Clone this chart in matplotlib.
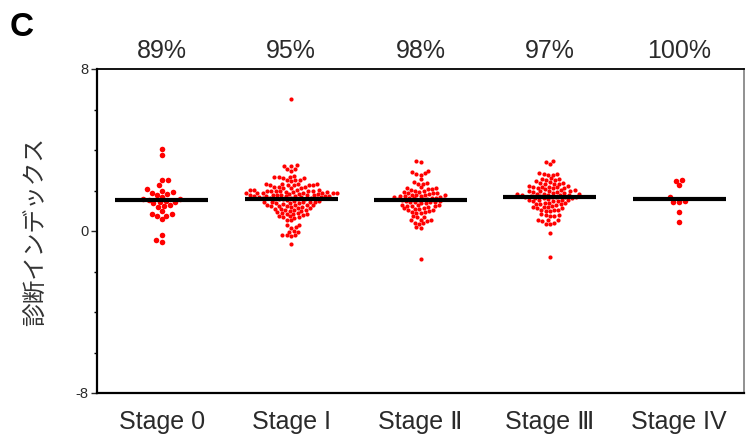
import matplotlib
matplotlib.use("Agg")
import matplotlib.pyplot as plt
import matplotlib.transforms as mtransforms
import numpy as np
import pandas as pd
import seaborn as sns

# values
stages = ["Stage 0", "Stage I", "Stage Ⅱ", "Stage Ⅲ", "Stage IV"]
percent_labels = ["89%", "95%", "98%", "97%", "100%"]
mean_values = [1.53, 1.60, 1.53, 1.69, 1.60]

stage0 = [4.05, 3.75, 2.5, 2.5, 2.25, 2.05, 2.0, 1.95, 1.9, 1.85, 1.8, 1.7, 1.6,
          1.58, 1.55, 1.5, 1.45, 1.42, 1.38, 1.28, 1.25, 1.2, 1.0, 0.85, 0.82,
          0.75, 0.72, 0.58, -0.2, -0.42, -0.52]

stage1 = [6.5,
          3.26, 3.21, 3.2, 3.08, 3.06, 2.96,
          2.7, 2.68, 2.65, 2.65, 2.62, 2.6,
          2.52, 2.5, 2.5, 2.48,
          2.32, 2.3, 2.3, 2.3, 2.28, 2.28, 2.27, 2.26, 2.25,
          2.17, 2.15, 2.15, 2.14, 2.12, 2.1,
          2.04, 2.03, 2.02, 2.02, 2.0, 2.0, 1.99, 1.98, 1.97, 1.96, 1.95,
          1.92, 1.91, 1.9, 1.9, 1.89, 1.88, 1.88, 1.87, 1.86, 1.85, 1.84, 1.83,
          1.8, 1.79, 1.78, 1.78, 1.77, 1.76, 1.75, 1.75, 1.74, 1.73, 1.72, 1.71, 1.7, 1.7,
          1.66, 1.65, 1.64, 1.63, 1.62, 1.61, 1.6, 1.59, 1.58, 1.57, 1.56, 1.55,
          1.48, 1.46, 1.45, 1.44, 1.43, 1.42, 1.41, 1.4, 1.38, 1.36, 1.35,
          1.3, 1.28, 1.27, 1.26, 1.25, 1.24, 1.22, 1.2, 1.18, 1.16,
          1.12, 1.1, 1.08, 1.06, 1.04, 1.02, 1.0, 0.98,
          0.92, 0.9, 0.88, 0.86, 0.84, 0.82, 0.8,
          0.74, 0.72, 0.7, 0.68, 0.65,
          0.55, 0.52,
          0.32, 0.28, 0.18, 0.16,
          0.0, -0.03, -0.05, -0.18, -0.2, -0.22, -0.24,
          -0.64]

stage2 = [3.45, 3.4,
          2.95, 2.9, 2.85, 2.8, 2.78,
          2.55,
          2.4, 2.35, 2.33, 2.3,
          2.15, 2.12, 2.1, 2.08, 2.05, 2.04,
          1.98, 1.96, 1.94, 1.92, 1.9, 1.88, 1.86, 1.85,
          1.8, 1.78, 1.77, 1.76, 1.75, 1.74, 1.72, 1.7, 1.7,
          1.65, 1.63, 1.62, 1.61, 1.6, 1.58, 1.57, 1.56, 1.55, 1.54,
          1.48, 1.46, 1.45, 1.44, 1.42, 1.41, 1.4, 1.38,
          1.3, 1.28, 1.27, 1.25, 1.24, 1.22, 1.2,
          1.14, 1.12, 1.1, 1.08, 1.06, 1.04,
          0.98, 0.95, 0.93, 0.9, 0.88,
          0.72, 0.7, 0.68,
          0.56, 0.54, 0.52, 0.5,
          0.4, 0.38, 0.36,
          0.2, 0.17,
          -1.38]

stage3 = [3.46, 3.42, 3.3,
          2.85, 2.82, 2.8, 2.78, 2.75,
          2.6, 2.58, 2.55, 2.52, 2.5, 2.48,
          2.4, 2.38, 2.36, 2.34, 2.32, 2.3,
          2.22, 2.2, 2.19, 2.18, 2.16, 2.15, 2.14, 2.12, 2.1,
          2.05, 2.03, 2.02, 2.0, 1.99, 1.98, 1.96, 1.95, 1.94,
          1.88, 1.86, 1.85, 1.84, 1.83, 1.82, 1.8, 1.79, 1.78, 1.77,
          1.72, 1.71, 1.7, 1.69, 1.68, 1.67, 1.66, 1.65, 1.64, 1.63,
          1.56, 1.55, 1.54, 1.52, 1.51, 1.5, 1.48, 1.47,
          1.4, 1.38, 1.37, 1.35, 1.34, 1.32, 1.3,
          1.22, 1.2, 1.19, 1.17, 1.15, 1.13,
          1.06, 1.04, 1.02, 1.0, 0.98,
          0.82, 0.8, 0.78, 0.76, 0.74,
          0.56, 0.54, 0.52, 0.5,
          0.4, 0.37, 0.35,
          -0.08,
          -1.27]

stage4 = [2.52, 2.48, 2.25, 1.66, 1.47, 1.45, 1.43, 0.95, 0.46]

groups = [stage0, stage1, stage2, stage3, stage4]
df = pd.DataFrame({
    "stage": np.concatenate([[s] * len(g) for s, g in zip(stages, groups)]),
    "value": np.concatenate(groups),
})

plt.rcParams['font.family'] = ['Liberation Sans', 'DejaVu Sans', 'Noto Sans CJK JP']
text_color = '#2a2a2a'

fig = plt.figure(figsize=(7.46, 4.34), dpi=100)
ax = fig.add_axes([97 / 746, 41 / 434, 647 / 746, 324 / 434])

# small groups were drawn with bigger dots in the original figure
marker_sizes = {"Stage 0": 4.0, "Stage I": 3.0, "Stage Ⅱ": 3.0, "Stage Ⅲ": 3.0, "Stage IV": 4.0}
for s in stages:
    sns.swarmplot(data=df[df["stage"] == s], x="stage", y="value", order=stages,
                  color="red", size=marker_sizes[s], linewidth=0, ax=ax, zorder=2)

# mean bars
xs = np.arange(len(stages))
ax.hlines(mean_values, xs - 0.36, xs + 0.36, colors='black', linewidth=3, zorder=3)

ax.set_xlim(-0.5, 4.5)
ax.set_ylim(-8, 8)
ax.set_yticks([-8, 0, 8])
ax.set_yticklabels(['-8', '0', '8'])
ax.set_yticks([-6, -4, -2, 2, 4, 6], minor=True)
ax.tick_params(axis='y', which='major', length=4, width=1, labelsize=10.5,
               colors=text_color, pad=2)
ax.tick_params(axis='y', which='minor', length=2, width=1)
ax.set_xticks(xs)
ax.set_xticklabels(stages)
ax.tick_params(axis='x', length=0, labelsize=18, colors=text_color, pad=12)

ax.set_xlabel('')
ax.set_ylabel('診断インデックス', family=['Noto Sans CJK JP'], fontsize=17,
              color='#333333', labelpad=20)

for side in ['left', 'bottom']:
    ax.spines[side].set_linewidth(1.6)
ax.spines['top'].set_linewidth(1.3)
ax.spines['right'].set_linewidth(1.3)
ax.spines['right'].set_color('#888888')

# percentages above each stage
trans = mtransforms.blended_transform_factory(ax.transData, ax.transAxes)
for x, lab in zip(xs, percent_labels):
    ax.text(x, 1.055, lab, transform=trans, ha='center', va='center',
            fontsize=18, color=text_color)

fig.text(10 / 746, 1 - 28 / 434, 'C', fontsize=24, fontweight='bold',
         ha='left', va='center', color='black')

fig.savefig('out.png', dpi=100)
